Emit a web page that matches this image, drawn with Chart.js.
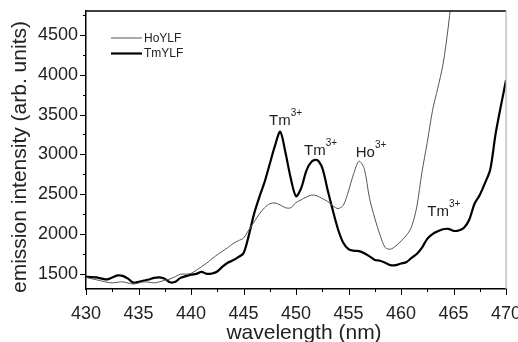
<!DOCTYPE html>
<html>
<head>
<meta charset="utf-8">
<script src="https://cdn.jsdelivr.net/npm/chart.js@4.4.1/dist/chart.umd.min.js"></script>
<style>
  html, body { margin: 0; padding: 0; background: #fff; }
  #wrap { width: 518px; height: 342px; }
</style>
</head>
<body>
<div id="wrap"><canvas id="spectrum"></canvas></div>
<script>
//-----------Data-----------
const wavelength = [
  430, 430.5, 431, 431.5, 432, 432.5, 433, 433.5, 434, 434.5,
  435, 435.5, 436, 436.5, 437, 437.5, 438, 438.5, 439, 439.5,
  440, 440.5, 441, 441.5, 442, 442.5, 443, 443.5, 444, 444.5,
  445, 445.5, 446, 446.5, 447, 447.5, 448, 448.5, 449, 449.5,
  450, 450.5, 451, 451.5, 452, 452.5, 453, 453.5, 454, 454.5,
  455, 455.5, 456, 456.5, 457, 457.5, 458, 458.5, 459, 459.5,
  460, 460.5, 461, 461.5, 462, 462.5, 463, 463.5, 464, 464.5,
  465, 465.5, 466, 466.5, 467, 467.5, 468, 468.5, 469, 469.5,
  470
];

const hoYLF = [
  1455, 1440, 1425, 1410, 1395, 1387, 1395, 1400, 1385, 1372,
  1385, 1400, 1395, 1387, 1400, 1420, 1435, 1465, 1496, 1496,
  1505, 1545, 1590, 1635, 1690, 1740, 1785, 1830, 1880, 1915,
  1950, 2050, 2150, 2250, 2330, 2380, 2390, 2365, 2330, 2330,
  2395, 2430, 2465, 2490, 2480, 2445, 2410, 2355, 2320, 2360,
  2540, 2760, 2915, 2820, 2450, 2200, 1990, 1830, 1810, 1850,
  1910, 1980, 2090, 2340, 2780, 3150, 3550, 3830, 4130, 4600,
  5200, 5800, null, null, null, null, null, null, null, null,
  null
];

const tmYLF = [
  1462, 1460, 1455, 1440, 1430, 1455, 1480, 1475, 1440, 1390,
  1400, 1415, 1430, 1450, 1455, 1440, 1395, 1400, 1450, 1471,
  1490, 1500, 1525, 1500, 1505, 1530, 1590, 1640, 1670, 1710,
  1760, 1980, 2250, 2460, 2650, 2880, 3110, 3285, 3020, 2700,
  2475, 2580, 2800, 2910, 2930, 2830, 2560, 2300, 2060, 1890,
  1810, 1790, 1785, 1760, 1720, 1675, 1665, 1640, 1610, 1610,
  1630, 1645, 1700, 1750, 1830, 1940, 2000, 2035, 2060, 2065,
  2040, 2045, 2080, 2180, 2380, 2490, 2640, 2810, 3250, 3600,
  3930
];

const xTicks = [430, 435, 440, 445, 450, 455, 460, 465, 470];
const yTicks = [1500, 2000, 2500, 3000, 3500, 4000, 4500];

const seriesLabels = ['HoYLF', 'TmYLF'];

// peak labels: ion, charge, wavelength / intensity anchor
const peakIons = ['Tm', 'Tm', 'Ho', 'Tm'];
const peakCharge = ['3+', '3+', '3+', '3+'];
const peakX = [447.43, 450.76, 455.69, 462.5];
const peakY = [3368, 2991, 2970, 2225];

const xTitle = 'wavelength (nm)';
const yTitle = 'emission intensity (arb. units)';

const FONT = '"Liberation Sans", Arial, sans-serif';
const TEXT = '#222';

// build point lists
const toPoints = (ys) => wavelength.map((w, i) => ({ x: w, y: ys[i] }));

// draws frame, tick marks, titles, legend and peak labels
const decorPlugin = {
  id: 'decor',
  afterDraw(chart) {
    const { ctx, chartArea: a, scales: { x, y } } = chart;
    ctx.save();

    // top + right frame
    ctx.lineWidth = 1.5;
    ctx.strokeStyle = '#000';
    ctx.beginPath();
    ctx.moveTo(a.left, a.top);
    ctx.lineTo(a.right, a.top);
    ctx.stroke();
    ctx.strokeStyle = '#b0b0b0';
    ctx.lineWidth = 1.2;
    ctx.beginPath();
    ctx.moveTo(a.right, a.top);
    ctx.lineTo(a.right, a.bottom);
    ctx.stroke();

    // tick marks, outward, major + minor
    ctx.strokeStyle = '#000';
    ctx.lineWidth = 1;
    ctx.beginPath();
    for (let v = x.min; v <= x.max + 0.01; v += 2.5) {
      const px = Math.round(x.getPixelForValue(v)) + 0.5;
      const len = (v % 5 === 0) ? 6 : 3;
      ctx.moveTo(px, a.bottom);
      ctx.lineTo(px, a.bottom + len);
    }
    for (let v = 1500; v <= y.max; v += 250) {
      const py = Math.round(y.getPixelForValue(v)) + 0.5;
      const len = (v % 500 === 0) ? 6 : 3;
      ctx.moveTo(a.left, py);
      ctx.lineTo(a.left - len, py);
    }
    ctx.stroke();

    // axis titles
    ctx.fillStyle = TEXT;
    ctx.font = '21px ' + FONT;
    ctx.textAlign = 'center';
    ctx.textBaseline = 'middle';
    ctx.fillText(xTitle, 304, 333);
    ctx.save();
    ctx.translate(20, 157);
    ctx.rotate(-Math.PI / 2);
    ctx.fillText(yTitle, 0, 0);
    ctx.restore();

    // legend
    const ds = chart.data.datasets;
    ctx.textAlign = 'left';
    ctx.font = '12px ' + FONT;
    ds.forEach((d, i) => {
      const ly = 38 + i * 15.5;
      ctx.strokeStyle = d.borderColor;
      ctx.lineWidth = d.borderWidth;
      ctx.beginPath();
      ctx.moveTo(111, ly);
      ctx.lineTo(142, ly);
      ctx.stroke();
      ctx.fillStyle = TEXT;
      ctx.fillText(d.label, 144, ly + 0.5);
    });

    // peak labels
    ctx.textBaseline = 'alphabetic';
    peakIons.forEach((ion, i) => {
      const px = x.getPixelForValue(peakX[i]);
      const py = y.getPixelForValue(peakY[i]);
      ctx.font = '15px ' + FONT;
      ctx.fillText(ion, px, py);
      const w = ctx.measureText(ion).width;
      ctx.font = '10px ' + FONT;
      ctx.fillText(peakCharge[i], px + w, py - 9);
    });

    ctx.restore();
  }
};

const ctx = document.getElementById('spectrum').getContext('2d');

new Chart(ctx, {
  type: 'line',
  data: {
    datasets: [
      {
        label: seriesLabels[0],
        data: toPoints(hoYLF),
        borderColor: '#555',
        borderWidth: 1,
        pointRadius: 0,
        tension: 0.3,
        spanGaps: false
      },
      {
        label: seriesLabels[1],
        data: toPoints(tmYLF),
        borderColor: '#000',
        borderWidth: 2.2,
        pointRadius: 0,
        tension: 0.3
      }
    ]
  },
  options: {
    responsive: true,
    maintainAspectRatio: false,
    animation: false,
    events: [],
    layout: { padding: { left: 0, right: 12, top: 11, bottom: 0 } },
    plugins: {
      legend: { display: false },
      tooltip: { enabled: false }
    },
    scales: {
      x: {
        type: 'linear',
        min: 430,
        max: 470,
        afterBuildTicks: (scale) => { scale.ticks = xTicks.map(v => ({ value: v })); },
        afterFit: (scale) => {
          scale.height = 53;
          scale.paddingLeft = 0;
          scale.paddingRight = 0;
        },
        grid: { display: false, drawTicks: false },
        border: { display: true, color: '#000', width: 1.5 },
        ticks: {
          padding: 14,
          color: TEXT,
          font: { family: FONT, size: 18 },
          maxRotation: 0,
          autoSkip: false,
          callback: (v) => String(v)
        }
      },
      y: {
        min: 1310,
        max: 4800,
        afterBuildTicks: (scale) => { scale.ticks = yTicks.map(v => ({ value: v })); },
        afterFit: (scale) => {
          scale.width = 86;
          scale.paddingTop = 0;
          scale.paddingBottom = 0;
        },
        grid: { display: false, drawTicks: false },
        border: { display: true, color: '#000', width: 1.5 },
        ticks: {
          padding: 8,
          color: TEXT,
          font: { family: FONT, size: 18 },
          autoSkip: false,
          callback: (v) => String(v)
        }
      }
    }
  },
  plugins: [decorPlugin]
});
</script>
</body>
</html>
